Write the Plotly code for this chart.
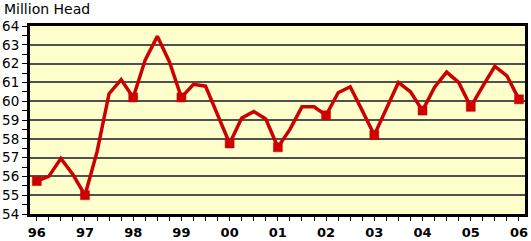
import plotly.graph_objects as go

years = [1996, 1997, 1998, 1999, 2000, 2001, 2002, 2003, 2004, 2005, 2006]
year_labels = ["96", "97", "98", "99", "00", "01", "02", "03", "04", "05", "06"]

# Quarterly values, 1996 Q1 through 2006 Q1 (million head)
values = [
    55.75, 56.0, 56.95, 56.1,
    55.0, 57.3, 60.4, 61.15,
    60.2, 62.2, 63.45, 62.1,
    60.2, 60.9, 60.8, 59.3,
    57.75, 59.1, 59.45, 59.05,
    57.55, 58.5, 59.7, 59.7,
    59.25, 60.45, 60.77, 59.5,
    58.2, 59.6, 61.0, 60.5,
    59.5, 60.75, 61.55, 61.0,
    59.7, 60.8, 61.85, 61.35,
    60.1,
]

x = [years[0] + i / 4 for i in range(len(values))]
x_q1 = x[::4]
v_q1 = values[::4]

red = "#CC0000"

fig = go.Figure()
fig.add_trace(go.Scatter(
    x=x, y=values, mode="lines",
    line=dict(color=red, width=3.5),
    showlegend=False, hoverinfo="skip",
))
fig.add_trace(go.Scatter(
    x=x_q1, y=v_q1, mode="markers",
    marker=dict(symbol="square", size=9, color=red, opacity=1,
                line=dict(width=0.5, color=red)),
    showlegend=False, hoverinfo="skip",
))

fig.update_layout(
    width=531, height=241,
    margin=dict(l=30, r=6, t=26, b=27),
    paper_bgcolor="white",
    plot_bgcolor="#FFFFCC",
    font=dict(family="DejaVu Sans", size=13, color="black"),
    showlegend=False,
    annotations=[dict(
        text="Million Head", xref="paper", yref="paper", x=-0.057, y=1.0,
        xanchor="left", yanchor="bottom", yshift=7, showarrow=False,
        font=dict(family="DejaVu Sans", size=14, color="black"),
    )],
)

fig.update_xaxes(
    range=[years[0] - 0.14, years[-1] + 0.125],
    tickmode="array", tickvals=years, ticktext=year_labels,
    tickfont=dict(family="DejaVu Sans", size=13, color="black", weight="bold"),
    ticks="outside", ticklen=4, tickwidth=1.2, tickcolor="black",
    automargin=False,
    minor=dict(dtick=0.25, tick0=years[0], ticks="outside", ticklen=4,
               tickwidth=1.2, tickcolor="black", showgrid=False),
    showgrid=False, zeroline=False,
    showline=True, linecolor="black", linewidth=3, mirror=True,
)

fig.update_yaxes(
    range=[54, 64], dtick=1, tick0=54,
    tickfont=dict(family="DejaVu Sans", size=13.5, color="black"),
    ticks="outside", ticklen=5, tickwidth=1.2, tickcolor="black",
    automargin=False,
    minor=dict(dtick=0.5, tick0=54, ticks="outside", ticklen=5,
               tickwidth=1.2, tickcolor="black", showgrid=False),
    showgrid=True, gridcolor="#505050", gridwidth=2,
    zeroline=False,
    showline=True, linecolor="black", linewidth=3, mirror=True,
)

fig.write_html("out.html")
